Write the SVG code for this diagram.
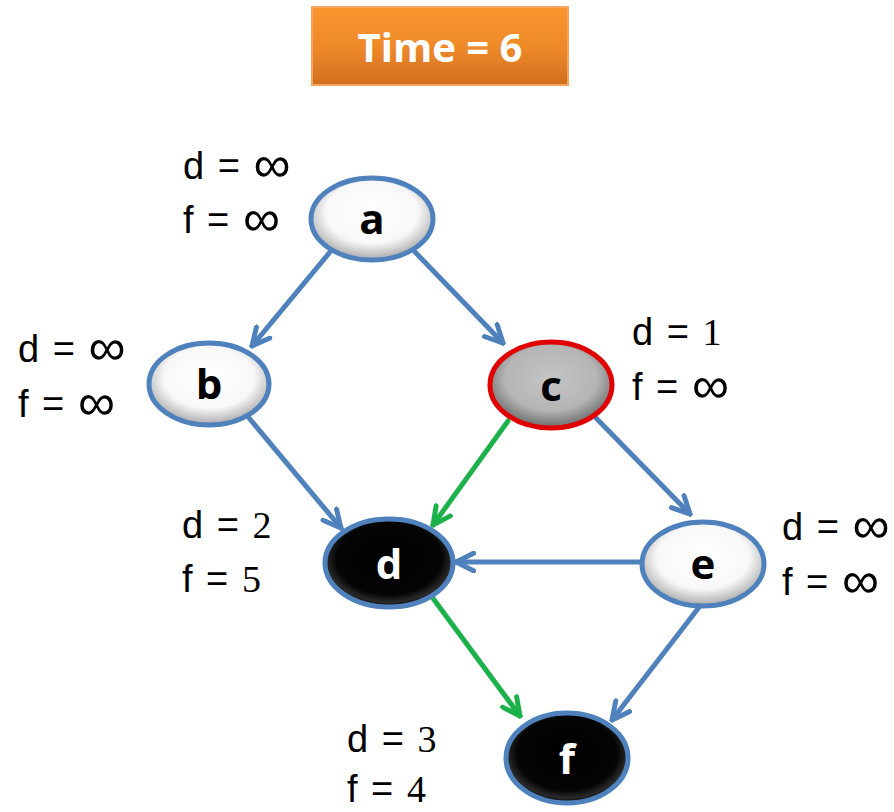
<svg xmlns="http://www.w3.org/2000/svg" width="894" height="812" viewBox="0 0 894 812">
<defs>
<linearGradient id="og" x1="0" y1="0" x2="0" y2="1"><stop offset="0" stop-color="#fa952f"/><stop offset="0.5" stop-color="#ef8a2a"/><stop offset="1" stop-color="#d06f1f"/></linearGradient>
<radialGradient id="wg" cx="0.5" cy="0.42" r="0.58"><stop offset="0" stop-color="#ffffff"/><stop offset="0.65" stop-color="#f8f8f8"/><stop offset="1" stop-color="#a8a8a8"/></radialGradient>
<radialGradient id="gg" cx="0.5" cy="0.42" r="0.58"><stop offset="0" stop-color="#c4c4c4"/><stop offset="0.65" stop-color="#b5b5b5"/><stop offset="1" stop-color="#6a6a6a"/></radialGradient>
<radialGradient id="bg" cx="0.5" cy="0.45" r="0.55"><stop offset="0" stop-color="#000"/><stop offset="0.75" stop-color="#050505"/><stop offset="0.9" stop-color="#2a2a2a"/><stop offset="1" stop-color="#000"/></radialGradient>
<marker id="ab" viewBox="0 0 20 20" refX="18" refY="10" markerWidth="22" markerHeight="22" markerUnits="userSpaceOnUse" orient="auto"><path d="M2,2 L18,10 L2,18" fill="none" stroke="#4f81bd" stroke-width="4.5" stroke-linecap="round"/></marker>
<marker id="ag" viewBox="0 0 20 20" refX="18" refY="10" markerWidth="22" markerHeight="22" markerUnits="userSpaceOnUse" orient="auto"><path d="M2,2 L18,10 L2,18" fill="none" stroke="#1db14b" stroke-width="4.5" stroke-linecap="round"/></marker>
</defs>
<style>
.e{stroke-width:5;fill:none;stroke-linecap:round}
.b{stroke:#4f81bd;marker-end:url(#ab)}
.g{stroke:#1db14b;marker-end:url(#ag)}
.lab{font-family:"Liberation Sans",Arial,sans-serif;font-size:38px;fill:#000;word-spacing:3px}
.num{font-family:"Liberation Serif","DejaVu Serif",serif}
.inf{font-size:52px}
.nl{font-family:"Open Sans","Liberation Sans",sans-serif;font-weight:bold;font-size:42px;text-anchor:middle}
.wn{fill:url(#wg);stroke:#4f81bd;stroke-width:5}
</style>
<g id="title">
<rect x="312" y="7" width="256" height="78" fill="url(#og)" stroke="#f7a55a" stroke-width="2"/>
<text x="440" y="62" text-anchor="middle" font-family="'Open Sans','Liberation Sans',sans-serif" font-weight="bold" font-size="40" fill="#fff">Time = 6</text>
</g>
<g id="connectors">
<line class="e b" x1="330" y1="252" x2="252" y2="346"/>
<line class="e b" x1="415" y1="252" x2="503" y2="343"/>
<line class="e b" x1="249" y1="418" x2="341" y2="528"/>
<line class="e g" x1="508" y1="421" x2="433" y2="525"/>
<line class="e b" x1="596" y1="418" x2="690" y2="514"/>
<line class="e b" x1="640" y1="562" x2="456" y2="562"/>
<line class="e g" x1="432" y1="597" x2="520" y2="716"/>
<line class="e b" x1="700" y1="606" x2="612" y2="720"/>
</g>
<g id="node-a">
<ellipse cx="372" cy="219" rx="61" ry="41" class="wn"/>
<text x="372" y="234" class="nl">a</text>
<text class="lab" x="183" y="179">d = <tspan class="inf" dy="3">∞</tspan></text>
<text class="lab" x="183" y="233">f = <tspan class="inf" dy="3">∞</tspan></text>
</g>
<g id="node-b">
<ellipse cx="209" cy="384" rx="60" ry="41" class="wn"/>
<text x="209" y="399" class="nl">b</text>
<text class="lab" x="18" y="362">d = <tspan class="inf" dy="3">∞</tspan></text>
<text class="lab" x="18" y="417">f = <tspan class="inf" dy="3">∞</tspan></text>
</g>
<g id="node-c">
<ellipse cx="551" cy="385" rx="61" ry="43" fill="url(#gg)" stroke="#e00000" stroke-width="5"/>
<text x="551" y="401" class="nl">c</text>
<text class="lab" x="632" y="345">d = <tspan class="num">1</tspan></text>
<text class="lab" x="632" y="400">f = <tspan class="inf" dy="3">∞</tspan></text>
</g>
<g id="node-d">
<ellipse cx="389" cy="563" rx="64" ry="44" fill="url(#bg)" stroke="#4f81bd" stroke-width="5"/>
<text x="389" y="579" class="nl" fill="#fff">d</text>
<text class="lab" x="182" y="538">d = <tspan class="num">2</tspan></text>
<text class="lab" x="182" y="592">f = <tspan class="num">5</tspan></text>
</g>
<g id="node-e">
<ellipse cx="703" cy="564" rx="61" ry="42" class="wn"/>
<text x="703" y="579" class="nl">e</text>
<text class="lab" x="782" y="540">d = <tspan class="inf" dy="3">∞</tspan></text>
<text class="lab" x="782" y="595">f = <tspan class="inf" dy="3">∞</tspan></text>
</g>
<g id="node-f">
<ellipse cx="567" cy="758" rx="61" ry="45" fill="url(#bg)" stroke="#4f81bd" stroke-width="5"/>
<text x="567" y="774" class="nl" fill="#fff">f</text>
<text class="lab" x="347" y="752">d = <tspan class="num">3</tspan></text>
<text class="lab" x="347" y="802">f = <tspan class="num">4</tspan></text>
</g>
</svg>
